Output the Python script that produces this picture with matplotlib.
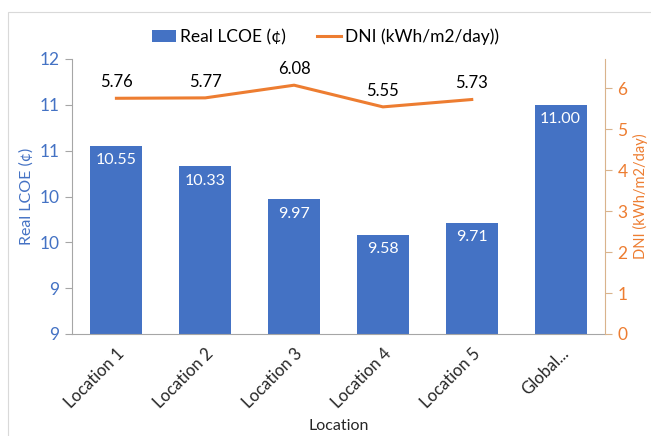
import decimal
import matplotlib
matplotlib.use("Agg")
import matplotlib.pyplot as plt
from matplotlib.patches import Rectangle
from matplotlib.ticker import FuncFormatter, MultipleLocator

plt.rcParams['font.family'] = ['Lato', 'DejaVu Sans']

locations = ['Location 1', 'Location 2', 'Location 3', 'Location 4', 'Location 5', 'Global...']
lcoe = [10.55, 10.33, 9.97, 9.58, 9.71, 11.00]
dni = [5.76, 5.77, 6.08, 5.55, 5.73]

BLUE = '#4472C4'
ORANGE = '#ED7D31'


def round_half_up(v, pos):
    # spreadsheet-style rounding: 9.5 -> 10
    return str(decimal.Decimal(str(v)).quantize(decimal.Decimal('1'), rounding=decimal.ROUND_HALF_UP))


fig = plt.figure(figsize=(6.51, 4.36), dpi=100)
fig.patches.append(Rectangle((8 / 651, -0.1), 1.0, 1.1 - 12 / 436, transform=fig.transFigure,
                             fill=False, edgecolor='#D9D9D9', linewidth=0.8))

ax = fig.add_axes([72 / 651, 1 - 334 / 436, (605 - 72) / 651, (334 - 59) / 436])
x = range(len(locations))
bars = ax.bar(x, lcoe, width=0.585, color=BLUE, label='Real LCOE (¢)', zorder=2)
ax.set_ylim(8.5, 11.5)
ax.yaxis.set_major_locator(MultipleLocator(0.5))
ax.yaxis.set_major_formatter(FuncFormatter(round_half_up))
ax.set_xlim(-0.5, len(locations) - 0.5)

for b, v in zip(bars, lcoe):
    ax.text(b.get_x() + b.get_width() / 2, v - 0.08, f'{v:.2f}', ha='center', va='top',
            color='white', fontsize=11.5)

ax.set_xticks(list(x))
ax.set_xticklabels(locations, rotation=45, ha='right', rotation_mode='anchor', fontsize=12,
                   color='#262626')
ax.tick_params(axis='x', length=0, pad=8)
ax.tick_params(axis='y', colors=BLUE, labelsize=12.5, length=5, color='#A6A6A6', pad=4)
ax.set_ylabel('Real LCOE (¢)', color=BLUE, fontsize=11.5, labelpad=4)
ax.set_xlabel('Location', fontsize=11.5, labelpad=6, color='#262626')

for side in ['top', 'right']:
    ax.spines[side].set_visible(False)
ax.spines['left'].set_color('#A6A6A6')
ax.spines['bottom'].set_color('#A6A6A6')

ax2 = ax.twinx()
line, = ax2.plot(range(len(dni)), dni, color=ORANGE, linewidth=2.2, label='DNI (kWh/m2/day))')
ax2.set_ylim(0, 6.72)
ax2.yaxis.set_major_locator(MultipleLocator(1))
ax2.tick_params(axis='y', colors=ORANGE, labelsize=12.5, length=5, color='#D9B38C', pad=4)
ax2.set_ylabel('DNI (kWh/m2/day)', color=ORANGE, fontsize=10.5, labelpad=4)
for side in ['top', 'left', 'bottom']:
    ax2.spines[side].set_visible(False)
ax2.spines['right'].set_color('#D9B38C')

for i, v in enumerate(dni):
    ax2.annotate(f'{v:.2f}', (i, v), xytext=(0, 6), textcoords='offset points',
                 ha='center', va='bottom', fontsize=12)

fig.legend(handles=[bars, line], loc='center', bbox_to_anchor=(0.5, 1 - 37 / 436), ncol=2,
           frameon=False, fontsize=12.5, handlelength=1.4, handletextpad=0.2, columnspacing=1.8)

fig.savefig('out.png', dpi=100)
